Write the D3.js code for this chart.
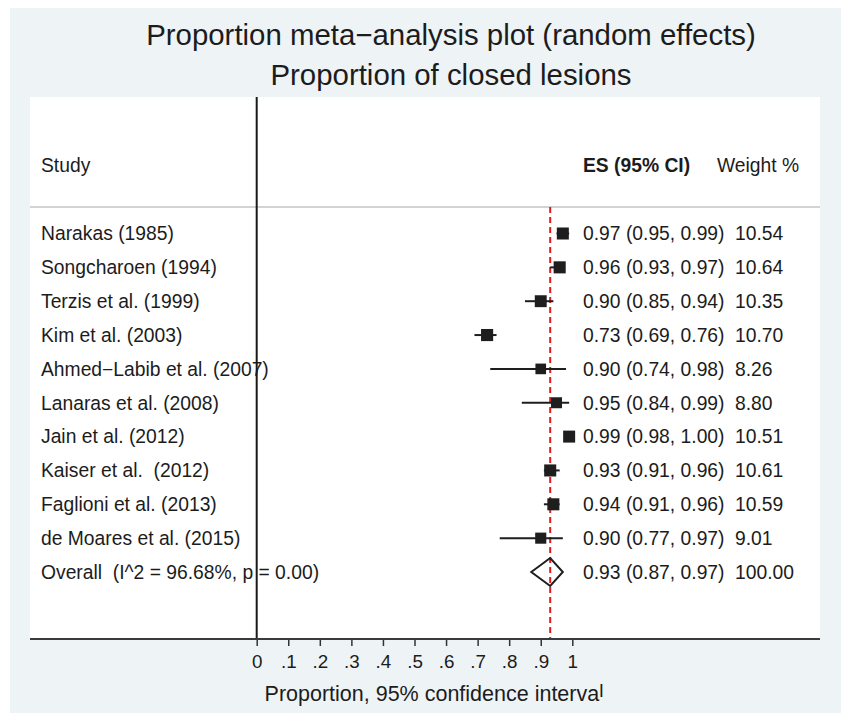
<!DOCTYPE html>
<html>
<head>
<meta charset="utf-8">
<script src="https://cdn.jsdelivr.net/npm/d3@7"></script>
<style>
  html, body { margin: 0; padding: 0; background: #ffffff; }
  svg { display: block; font-family: "Liberation Sans", Arial, sans-serif; }
  text { fill: #1c1c1c; white-space: pre; }
</style>
</head>
<body>
<div id="chart"></div>
<script>
// forest plot, proportion meta-analysis

const studies = [
    "Narakas (1985)",
    "Songcharoen (1994)",
    "Terzis et al. (1999)",
    "Kim et al. (2003)",
    "Ahmed\u2212Labib et al. (2007)",
    "Lanaras et al. (2008)",
    "Jain et al. (2012)",
    "Kaiser et al.  (2012)",
    "Faglioni et al. (2013)",
    "de Moares et al. (2015)"
];
const es = [0.97, 0.96, 0.90, 0.73, 0.90, 0.95, 0.99, 0.93, 0.94, 0.90];
const lo = [0.95, 0.93, 0.85, 0.69, 0.74, 0.84, 0.98, 0.91, 0.91, 0.77];
const hi = [0.99, 0.97, 0.94, 0.76, 0.98, 0.99, 1.00, 0.96, 0.96, 0.97];
const weights = [10.54, 10.64, 10.35, 10.70, 8.26, 8.80, 10.51, 10.61, 10.59, 9.01];

const overallLabel = "Overall  (I^2 = 96.68%, p = 0.00)";
const overall = { es: 0.93, lo: 0.87, hi: 0.97, weight: 100.00 };

const ticks = [0, 0.1, 0.2, 0.3, 0.4, 0.5, 0.6, 0.7, 0.8, 0.9, 1];
const titleLines = ["Proportion meta\u2212analysis plot (random effects)", "Proportion of closed lesions"];

const W = 841, H = 713;
const plot = { left: 30, right: 820, top: 97, bottom: 639 };
const fmt = d => d.toFixed(2);
const fs = "19.3px";

const svg = d3.select("#chart").append("svg")
    .attr("width", W)
    .attr("height", H);

// graph region + plot region
svg.append("rect")
    .attr("x", 10).attr("y", 8)
    .attr("width", W - 10).attr("height", H - 8)
    .attr("fill", "#eef3f6");
svg.append("rect")
    .attr("x", plot.left).attr("y", plot.top)
    .attr("width", plot.right - plot.left).attr("height", plot.bottom - plot.top)
    .attr("fill", "#ffffff");

let x = d3.scaleLinear()
    .domain([0, 1])
    .range([256.7, 572.3]);

let rows = studies.concat([overallLabel]);
let y = d3.scalePoint()
    .domain(rows)
    .range([233.5, 572]);

// title
svg.selectAll(".title")
    .data(titleLines)
    .enter().append("text")
    .attr("class", "title")
    .attr("x", 451)
    .attr("y", (d, i) => 45 + i * 40)
    .attr("text-anchor", "middle")
    .style("font-size", "29.4px")
    .text(d => d);

// header
let headerY = 172;
svg.append("text").attr("x", 41).attr("y", headerY)
    .style("font-size", fs).text("Study");
svg.append("text").attr("x", 583).attr("y", headerY)
    .style("font-size", fs).style("font-weight", "bold").text("ES (95% CI)");
svg.append("text").attr("x", 717).attr("y", headerY)
    .style("font-size", fs).text("Weight %");

svg.append("line")
    .attr("x1", plot.left).attr("x2", plot.right)
    .attr("y1", 207).attr("y2", 207)
    .attr("stroke", "#c4c4c4").attr("stroke-width", 1.5);

// study labels
svg.selectAll(".study")
    .data(rows)
    .enter().append("text")
    .attr("class", "study")
    .attr("x", 41)
    .attr("y", d => y(d) + 6.8)
    .style("font-size", fs)
    .text(d => d);

// zero line
svg.append("line")
    .attr("x1", x(0)).attr("x2", x(0))
    .attr("y1", plot.top).attr("y2", plot.bottom)
    .attr("stroke", "#1a1a1a").attr("stroke-width", 2);

// overall effect line
svg.append("line")
    .attr("x1", x(overall.es)).attr("x2", x(overall.es))
    .attr("y1", 207).attr("y2", plot.bottom)
    .attr("stroke", "#e3191c").attr("stroke-width", 2)
    .attr("stroke-dasharray", "6,4");

let studyData = studies.map((s, i) => ({ name: s, es: es[i], lo: lo[i], hi: hi[i], w: weights[i] }));

// CI lines
svg.selectAll(".ci")
    .data(studyData)
    .enter().append("line")
    .attr("class", "ci")
    .attr("x1", d => x(d.lo)).attr("x2", d => x(d.hi))
    .attr("y1", d => y(d.name)).attr("y2", d => y(d.name))
    .attr("stroke", "#1e1e1e").attr("stroke-width", 2);

// weighted boxes
let side = d => 3.7 * Math.sqrt(d.w);
svg.selectAll(".box")
    .data(studyData)
    .enter().append("rect")
    .attr("class", "box")
    .attr("x", d => x(d.es) - side(d) / 2)
    .attr("y", d => y(d.name) - side(d) / 2)
    .attr("width", side).attr("height", side)
    .attr("fill", "#1e1e1e");

// overall diamond
let oy = y(overallLabel);
let diamond = [[x(overall.lo), oy], [x(overall.es), oy - 14], [x(overall.hi), oy], [x(overall.es), oy + 14]];
svg.append("path")
    .attr("d", d3.line()(diamond) + "Z")
    .attr("fill", "none")
    .attr("stroke", "#1e1e1e")
    .attr("stroke-width", 2);

// ES text + weights
let allRows = studyData.concat([{ name: overallLabel, es: overall.es, lo: overall.lo, hi: overall.hi, w: overall.weight }]);
svg.selectAll(".est")
    .data(allRows)
    .enter().append("text")
    .attr("class", "est")
    .attr("x", 583)
    .attr("y", d => y(d.name) + 6.8)
    .style("font-size", fs)
    .text(d => fmt(d.es) + " (" + fmt(d.lo) + ", " + fmt(d.hi) + ")");
svg.selectAll(".wt")
    .data(allRows)
    .enter().append("text")
    .attr("class", "wt")
    .attr("x", 735)
    .attr("y", d => y(d.name) + 6.8)
    .style("font-size", fs)
    .text(d => fmt(d.w));

// x axis
let xAxis = d3.axisBottom(x)
    .tickValues(ticks)
    .tickSize(7)
    .tickPadding(9)
    .tickFormat(d => d === 0 ? "0" : d === 1 ? "1" : d3.format(".1f")(d).replace(/^0/, ""));

let axisG = svg.append("g")
    .attr("class", "x axis")
    .attr("transform", "translate(0," + plot.bottom + ")")
    .call(xAxis);
axisG.select(".domain").remove();
axisG.selectAll(".tick line").attr("stroke", "#333").attr("stroke-width", 1.5);
axisG.selectAll(".tick text")
    .attr("fill", "#1c1c1c")
    .style("font-size", "18.8px")
    .style("font-family", "'Liberation Sans', Arial, sans-serif");

svg.append("line")
    .attr("x1", plot.left).attr("x2", plot.right)
    .attr("y1", plot.bottom).attr("y2", plot.bottom)
    .attr("stroke", "#3a3a3a").attr("stroke-width", 2);

let axisTitle = svg.append("text")
    .attr("x", 434)
    .attr("y", 701)
    .attr("text-anchor", "middle")
    .style("font-size", "21.5px");
axisTitle.append("tspan").text("Proportion, 95% confidence interva");
axisTitle.append("tspan").attr("dy", -4).style("font-size", "19px").text("l");
</script>
</body>
</html>
